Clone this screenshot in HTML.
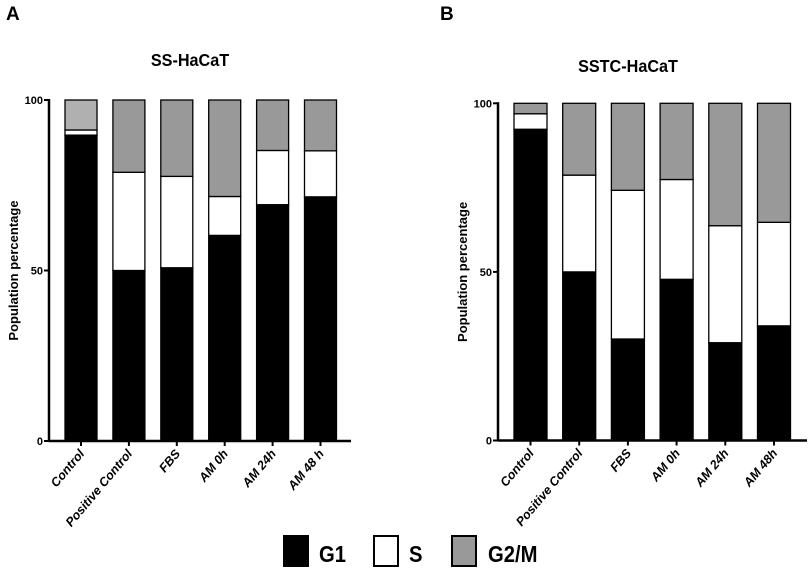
<!DOCTYPE html>
<html><head><meta charset="utf-8"><style>
body{margin:0;background:#fff;}
svg{display:block;font-family:"Liberation Sans",Arial,sans-serif;}
</style></head><body>
<svg id="fig" width="809" height="579" viewBox="0 0 809 579">
<text x="6" y="20" font-size="19" font-weight="bold">A</text>
<text x="440" y="20" font-size="19" font-weight="bold">B</text>
<g id="legend">
<rect x="284" y="536" width="24" height="30" fill="#000" stroke="#000" stroke-width="2"/>
<text transform="translate(319,562) scale(0.88,1)" font-size="23" font-weight="bold">G1</text>
<rect x="374" y="536" width="24" height="30" fill="#fff" stroke="#000" stroke-width="2"/>
<text transform="translate(409,562) scale(0.88,1)" font-size="23" font-weight="bold">S</text>
<rect x="452" y="536" width="24" height="30" fill="#999" stroke="#000" stroke-width="2"/>
<text transform="translate(488,562) scale(0.88,1)" font-size="23" font-weight="bold">G2/M</text>
</g>
</svg>
<script>
const categories = ["Control","Positive Control","FBS","AM 0h","AM 24h","AM 48 h"];
const categoriesB = ["Control","Positive Control","FBS","AM 0h","AM 24h","AM 48h"];
const g1A = [89.7, 50.0, 50.8, 60.3, 69.3, 71.6];
const sA = [1.5, 28.8, 26.8, 11.4, 15.9, 13.5];
const g1B = [92.3, 50.0, 30.1, 47.8, 29.0, 34.0];
const sB = [4.6, 28.7, 44.1, 29.6, 34.7, 30.7];
const yTicks = [0, 50, 100];

const NS = "http://www.w3.org/2000/svg";
const svg = document.getElementById("fig");
function el(tag, attrs, parent){const e=document.createElementNS(NS,tag);for(const k in attrs)e.setAttribute(k,attrs[k]);(parent||svg).appendChild(e);return e;}

function panel(cfg){
  const g = el("g",{});
  
  
  const y = v => cfg.y0 - (v/100)*(cfg.y0-cfg.y100);
  const x = i => cfg.first + i*cfg.step;
  const t = el("text",{transform:`translate(${cfg.titleX},${cfg.titleY}) scale(0.9,1)`,"font-size":18,"font-weight":"bold","text-anchor":"middle"},g);
  t.textContent = cfg.title;
  
  
  const yl = el("text",{transform:`translate(${cfg.ax-31},${(cfg.y0+cfg.y100)/2}) rotate(-90)`,"font-size":13,"font-weight":"bold","text-anchor":"middle"},g);
  yl.textContent = "Population percentage";
  
  
  cfg.g1.forEach((v,i)=>{
    const s = cfg.s[i], xx = x(i);
    const specs = [[0,v,"#000","g1"],[v,v+s,"#fff","s"],[v+s,100,cfg.gray[i],"g2m"]];
    specs.forEach(([a,b,f,n])=>{
      const r = el("rect",{x:xx,y:y(b),width:cfg.bw,height:y(a)-y(b),fill:f,stroke:"#000","stroke-width":1.3},g);
      
      
    });
    const tk = el("line",{x1:xx+cfg.bw/2,x2:xx+cfg.bw/2,y1:cfg.y0,y2:cfg.y0+5,stroke:"#000","stroke-width":2},g);
    
    
    const lb = el("text",{transform:`translate(${xx+cfg.bw/2+4},${cfg.y0+13}) rotate(-50)`,"font-size":12.5,"font-weight":"bold","font-style":"italic","text-anchor":"end"},g);
    lb.textContent = cfg.cats[i];
    
    
  });
  const ya = el("line",{x1:cfg.ax,x2:cfg.ax,y1:cfg.y100-1,y2:cfg.y0+1,stroke:"#000","stroke-width":2.5},g);
  
  
  const xa = el("line",{x1:cfg.ax,x2:cfg.axEnd,y1:cfg.y0,y2:cfg.y0,stroke:"#000","stroke-width":2.5},g);
  
  
  yTicks.forEach(v=>{
    const l = el("line",{x1:cfg.ax-5,x2:cfg.ax,y1:y(v),y2:y(v),stroke:"#000","stroke-width":2},g);
    
    
    const tx = el("text",{x:cfg.ax-6,y:y(v)+4,"font-size":11,"font-weight":"bold","text-anchor":"end"},g);
    tx.textContent = v;
    
    
  });
}
panel({name:"chart-ss-hacat",title:"SS-HaCaT",titleX:190,titleY:66,ax:49,axEnd:351,y0:441,y100:100,first:65,step:47.9,bw:32,g1:g1A,s:sA,cats:categories,gray:["#b0b0b0","#999","#999","#999","#999","#999"]});
panel({name:"chart-sstc-hacat",title:"SSTC-HaCaT",titleX:628,titleY:72,ax:498,axEnd:807,y0:440.5,y100:103.3,first:514,step:48.7,bw:33,g1:g1B,s:sB,cats:categoriesB,gray:["#999","#999","#999","#999","#999","#999"]});
</script>
</body></html>
